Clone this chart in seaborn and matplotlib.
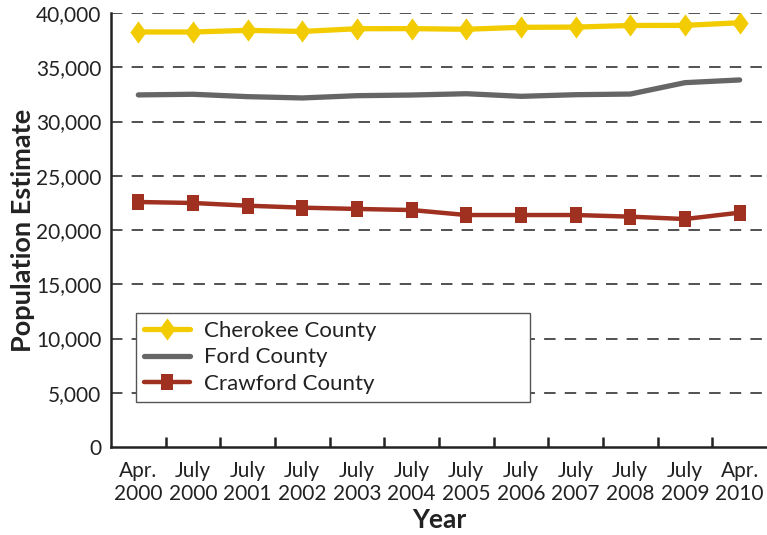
import matplotlib
matplotlib.use("Agg")
import matplotlib.pyplot as plt
import seaborn as sns
import pandas as pd
import numpy as np

# ---- data ----
periods = ["Apr.\n2000", "July\n2000", "July\n2001", "July\n2002", "July\n2003", "July\n2004",
           "July\n2005", "July\n2006", "July\n2007", "July\n2008", "July\n2009", "Apr.\n2010"]
cherokee = [38250, 38250, 38400, 38300, 38550, 38560, 38500, 38680, 38700, 38850, 38860, 39100]
ford = [32450, 32510, 32290, 32170, 32380, 32440, 32560, 32320, 32470, 32530, 33580, 33830]
crawford = [22580, 22490, 22240, 22060, 21940, 21840, 21380, 21380, 21380, 21230, 21010, 21600]
series_names = ["Cherokee County", "Ford County", "Crawford County"]
y_ticks = [0, 5000, 10000, 15000, 20000, 25000, 30000, 35000, 40000]

sns.set_theme(style="white")
plt.rcParams["font.family"] = ["Lato", "DejaVu Sans"]

fig = plt.figure(figsize=(7.67, 5.35), dpi=100)
ax = fig.add_axes([111/767, 1-447/535, 1-111/767, (447-13)/535])

x = np.arange(len(periods))
df = pd.DataFrame({"x": x, "Cherokee": cherokee, "Ford": ford, "Crawford": crawford})

diamond = [(0, 1), (0.73, 0), (0, -1), (-0.73, 0), (0, 1)]
rect = [(-0.75, -1), (0.75, -1), (0.75, 1), (-0.75, 1), (-0.75, -1)]

sns.lineplot(data=df, x="x", y="Cherokee", ax=ax, color="#F2CC00", linewidth=3.8,
             marker=diamond, markersize=16, markeredgewidth=0, label=series_names[0])
sns.lineplot(data=df, x="x", y="Ford", ax=ax, color="#666666", linewidth=3.8,
             label=series_names[1], solid_capstyle="round")
sns.lineplot(data=df, x="x", y="Crawford", ax=ax, color="#A03020", linewidth=3.2,
             marker=rect, markersize=11.5, markeredgewidth=0, label=series_names[2])

ax.set_xlim(-0.5, len(periods) - 0.5)
ax.set_ylim(0, 40000)
ax.set_yticks(y_ticks)
ax.set_yticklabels([f"{v:,}" for v in y_ticks], fontsize=15, color="#222222")
ax.set_xticks(x)
ax.set_xticklabels(periods, fontsize=15, color="#222222", linespacing=1.2)
ax.set_xticks(np.arange(0.5, len(periods) - 0.5, 1), minor=True)
ax.tick_params(axis="x", which="major", length=0, pad=10)
ax.tick_params(axis="x", which="minor", direction="in", length=7, width=1.8, color="#222222", bottom=True)
ax.tick_params(axis="y", length=0, pad=7)

for yv in y_ticks[1:]:
    ax.axhline(yv, color="#222222", linewidth=1.1, linestyle=(0, (7.5, 6)), zorder=0)

for s in ["top", "right"]:
    ax.spines[s].set_visible(False)
for s in ["left", "bottom"]:
    ax.spines[s].set_color("#222222")
    ax.spines[s].set_linewidth(1.8)

ax.set_xlabel("Year", fontsize=19, fontweight="bold", color="#222222", labelpad=3)
ax.set_ylabel("Population Estimate", fontsize=19.5, fontweight="bold", color="#222222", labelpad=1)

leg = ax.legend(loc="lower left", bbox_to_anchor=(0.038, 0.104, 0.60, 0.2), mode="expand",
                borderaxespad=0, fontsize=16, frameon=True, fancybox=False,
                handlelength=2.1, handletextpad=0.6, labelspacing=0.3, borderpad=0.35)
leg.get_frame().set_edgecolor("#555555")
leg.get_frame().set_linewidth(1.0)
leg.get_frame().set_alpha(1)
for t in leg.get_texts():
    t.set_color("#222222")

fig.savefig("out.png", dpi=100)
